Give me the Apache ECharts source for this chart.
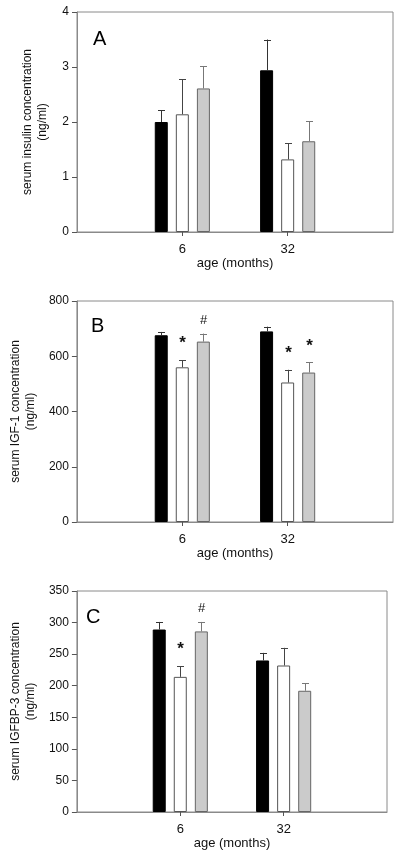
<!DOCTYPE html>
<html><head><meta charset="utf-8">
<script src="https://cdn.jsdelivr.net/npm/echarts@6/dist/echarts.min.js"></script>
<style>html,body{margin:0;padding:0;background:#fff}#c{width:400px;height:854px}</style>
</head><body><div id="c"></div>
<script>
// ---- data ----
const ages = ['6', '32'];
// Panel A: serum insulin (ng/ml)
const insulinBlack = [2.0, 2.94];
const insulinBlackErr = [0.21, 0.56];
const insulinWhite = [2.14, 1.32];
const insulinWhiteErr = [0.64, 0.29];
const insulinGray = [2.61, 1.65];
const insulinGrayErr = [0.40, 0.36];
// Panel B: serum IGF-1 (ng/ml)
const igf1Black = [676, 690];
const igf1BlackErr = [12, 17];
const igf1White = [560, 505];
const igf1WhiteErr = [26, 46];
const igf1Gray = [653, 541];
const igf1GrayErr = [29, 37];
const igf1WhiteMarks = ['*', '*'];
const igf1GrayMarks = ['#', '*'];
// Panel C: serum IGFBP-3 (ng/ml)
const igfbp3Black = [289, 240];
const igfbp3BlackErr = [12, 12];
const igfbp3White = [214, 232];
const igfbp3WhiteErr = [17, 28];
const igfbp3Gray = [286, 192];
const igfbp3GrayErr = [15, 12];
const igfbp3WhiteMarks = ['*', ''];
const igfbp3GrayMarks = ['#', ''];
// axes
const yTicksA = {min: 0, max: 4, interval: 1};
const yTicksB = {min: 0, max: 800, interval: 200};
const yTicksC = {min: 0, max: 350, interval: 50};

// ---- styles ----
const FONT = '"Liberation Sans", Arial, sans-serif';
const AXC = '#8a8a8a';
const BAR_W = 13, BAR_GAP = 0.62;
const STEP = BAR_W * (1 + BAR_GAP);
const barStyles = [
  {color: '#000', borderColor: '#000', borderWidth: 1},
  {color: '#fff', borderColor: '#555', borderWidth: 1},
  {color: '#cbcbcb', borderColor: '#666', borderWidth: 1}
];
const errColors = ['#333', '#444', '#777'];

const axisCats = ['', ...ages, ''];
const pad = arr => [null, ...arr, null];

const panels = [
  {grid: {left: 77, right: 7, top: 12, height: 220}, y: yTicksA, yname: 'serum insulin concentration\n(ng/ml)', nameGap: 27,
   means: [insulinBlack, insulinWhite, insulinGray], errs: [insulinBlackErr, insulinWhiteErr, insulinGrayErr], marks: [null, null, null],
   letter: 'A', lx: 88, ly: 24},
  {grid: {left: 73, right: 7, top: 301, height: 221}, y: yTicksB, yname: 'serum IGF-1 concentration\n(ng/ml)', nameGap: 36,
   means: [igf1Black, igf1White, igf1Gray], errs: [igf1BlackErr, igf1WhiteErr, igf1GrayErr], marks: [null, igf1WhiteMarks, igf1GrayMarks],
   letter: 'B', lx: 86, ly: 311},
  {grid: {left: 69, right: 13, top: 591, height: 221}, y: yTicksC, yname: 'serum IGFBP-3 concentration\n(ng/ml)', nameGap: 32,
   means: [igfbp3Black, igfbp3White, igfbp3Gray], errs: [igfbp3BlackErr, igfbp3WhiteErr, igfbp3GrayErr], marks: [null, igfbp3WhiteMarks, igfbp3GrayMarks],
   letter: 'C', lx: 81, ly: 602}
];

const grids = [], xAxes = [], yAxes = [], series = [], titles = [];
panels.forEach((p, pi) => {
  grids.push(Object.assign({show: true, borderColor: AXC, borderWidth: 1, backgroundColor: 'transparent'}, p.grid));
  xAxes.push({
    type: 'category', gridIndex: pi, data: axisCats, boundaryGap: false,
    axisLine: {lineStyle: {color: AXC}},
    axisTick: {length: 4, lineStyle: {color: '#555'}, interval: (i) => i === 1 || i === 2},
    axisLabel: {color: '#111', fontFamily: FONT, fontSize: 13, margin: 11, interval: 0},
    name: 'age (months)', nameLocation: 'middle', nameGap: 22,
    nameTextStyle: {color: '#111', fontFamily: FONT, fontSize: 13}
  });
  yAxes.push({
    type: 'value', gridIndex: pi, min: p.y.min, max: p.y.max, interval: p.y.interval,
    splitLine: {show: false},
    axisLine: {show: true, lineStyle: {color: AXC}},
    axisTick: {show: true, length: 5, lineStyle: {color: '#555'}},
    axisLabel: {color: '#111', fontFamily: FONT, fontSize: 12, margin: 8},
    name: p.yname, nameLocation: 'middle', nameGap: p.nameGap, nameRotate: 90,
    nameTextStyle: {color: '#111', fontFamily: FONT, fontSize: 12, lineHeight: 15}
  });
  titles.push({text: p.letter, left: p.lx, top: p.ly, textStyle: {fontFamily: FONT, fontSize: 20, fontWeight: 'normal', color: '#000'}});
  for (let s = 0; s < 3; s++) {
    series.push({
      type: 'bar', xAxisIndex: pi, yAxisIndex: pi, data: pad(p.means[s]),
      barWidth: BAR_W, barGap: (BAR_GAP * 100) + '%', itemStyle: barStyles[s], silent: true, z: 2
    });
  }
  for (let s = 0; s < 3; s++) {
    const off = (s - 1) * STEP;
    const marks = p.marks[s];
    const data = p.means[s].map((m, i) => [i + 1, m, m + p.errs[s][i]]);
    series.push({
      type: 'custom', xAxisIndex: pi, yAxisIndex: pi, data: data, z: 5, silent: true,
      renderItem: function (params, api) {
        const c = api.value(0), mean = api.value(1), top = api.value(2);
        const p0 = api.coord([c, mean]);
        const p1 = api.coord([c, top]);
        const x = Math.round(p0[0] + off) + 0.5;
        const children = [
          {type: 'line', shape: {x1: x, y1: p0[1], x2: x, y2: p1[1]}, style: {stroke: errColors[s], lineWidth: 1}},
          {type: 'line', shape: {x1: x - 3.5, y1: Math.round(p1[1]) + 0.5, x2: x + 3.5, y2: Math.round(p1[1]) + 0.5}, style: {stroke: errColors[s], lineWidth: 1}}
        ];
        if (marks && marks[params.dataIndex]) {
          const mk = marks[params.dataIndex];
          const isStar = mk === '*';
          children.push({type: 'text', style: {
            text: mk, x: x, y: p1[1] - (isStar ? 8 : 7), align: 'center', verticalAlign: 'bottom',
            font: (isStar ? 'bold 17px ' : '13px ') + FONT, fill: '#111'
          }});
        }
        return {type: 'group', children: children};
      }
    });
  }
});

const chart = echarts.init(document.getElementById('c'), null, {renderer: 'canvas'});
chart.setOption({
  animation: false, backgroundColor: '#fff',
  title: titles, grid: grids, xAxis: xAxes, yAxis: yAxes, series: series
});
</script></body></html>
